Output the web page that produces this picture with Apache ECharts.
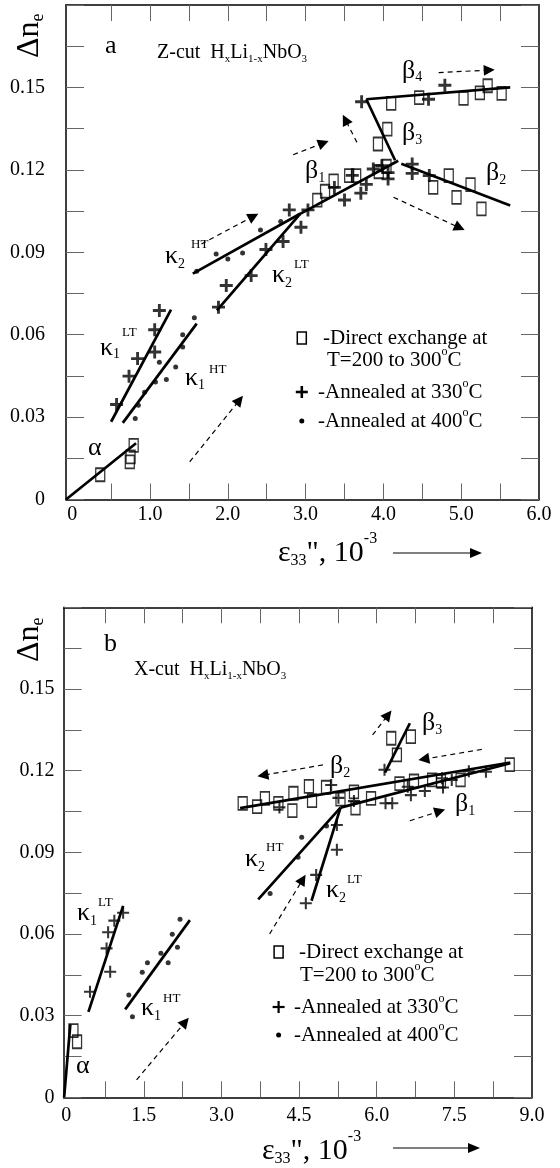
<!DOCTYPE html>
<html>
<head>
<meta charset="utf-8">
<script src="https://cdn.jsdelivr.net/npm/echarts@6/dist/echarts.min.js"></script>
<style>
  html, body { margin: 0; padding: 0; background: #fff; }
  #chart { width: 560px; height: 1168px; }
</style>
</head>
<body>
<div id="chart"></div>
<script>
const FONT = '"Liberation Serif", "Times New Roman", serif';

// ---- panel a : Z-cut ----
const A_X_TICKS = [0.5, 1, 1.5, 2, 2.5, 3, 3.5, 4, 4.5, 5, 5.5];
const A_X_LABELS = [0, 1, 2, 3, 4, 5, 6];
// direct exchange at T=200 to 300 C
const A_DIRECT = [
  [0.36, 0.009], [0.74, 0.0137], [0.75, 0.0155], [0.79, 0.0197],
  [3.15, 0.109], [3.25, 0.1122], [3.36, 0.116], [3.56, 0.1179], [3.65, 0.1179], [3.94, 0.1193], [4.04, 0.1213],
  [3.93, 0.1294], [4.05, 0.1348],
  [4.10, 0.1442], [4.46, 0.1463], [5.03, 0.146], [5.24, 0.148], [5.34, 0.1506], [5.52, 0.1478],
  [4.64, 0.1136], [4.84, 0.1179], [4.94, 0.110], [5.12, 0.1146], [5.26, 0.1058]
];
// annealed at 330 C
const A_ANNEAL330 = [
  [0.57, 0.0346], [0.73, 0.0449], [0.84, 0.0513], [1.06, 0.0537], [1.06, 0.0618], [1.12, 0.0688],
  [1.88, 0.070], [1.98, 0.0779], [2.30, 0.0815], [2.49, 0.091], [2.71, 0.0939], [2.94, 0.0991], [2.79, 0.1054], [3.03, 0.1054],
  [3.37, 0.1136], [3.50, 0.109], [3.71, 0.1115], [3.78, 0.1147], [3.60, 0.118], [3.87, 0.1203], [3.98, 0.1215], [4.06, 0.119], [4.06, 0.1167],
  [3.72, 0.1448], [4.58, 0.1457], [4.79, 0.1508],
  [4.37, 0.1221], [4.37, 0.1187], [4.59, 0.1179]
];
// annealed at 400 C
const A_ANNEAL400 = [
  [0.81, 0.0295], [0.85, 0.0343], [0.93, 0.039], [1.07, 0.0428], [1.21, 0.0437], [1.12, 0.050], [1.33, 0.0482],
  [1.42, 0.0555], [1.42, 0.060], [1.57, 0.0662],
  [1.60, 0.0831], [1.85, 0.0894], [2.00, 0.0875], [2.19, 0.0897], [2.42, 0.0981], [2.68, 0.1012]
];
// fitted segments: alpha, k1LT, k1HT, k2LT, k2HT, b1, b3, b4, b2
const A_FITS = [
  [[-0.08, 0], [0.82, 0.0205]],
  [[0.50, 0.0283], [1.27, 0.0691]],
  [[0.65, 0.0279], [1.60, 0.064]],
  [[1.86, 0.0688], [2.93, 0.104]],
  [[1.55, 0.0822], [2.93, 0.104]],
  [[2.90, 0.1035], [4.19, 0.1233]],
  [[4.15, 0.1235], [3.78, 0.1457]],
  [[3.78, 0.1457], [5.63, 0.150]],
  [[4.23, 0.1222], [5.63, 0.107]]
];
const A_ARROWS = [
  [[1.66, 0.093], [2.33, 0.1031]],
  [[2.84, 0.1255], [3.23, 0.1298]],
  [[3.66, 0.130], [3.51, 0.1383]],
  [[4.13, 0.110], [4.98, 0.0989]],
  [[4.71, 0.1554], [5.36, 0.1563]],
  [[1.51, 0.0137], [2.15, 0.0362]]
];

// ---- panel b : X-cut ----
const B_X_TICKS = [0.75, 1.5, 2.25, 3, 3.75, 4.5, 5.25, 6, 6.75, 7.5, 8.25];
const B_X_LABELS = [0, 1.5, 3, 4.5, 6, 7.5, 9];
const B_DIRECT = [
  [0.14, 0.0245], [0.21, 0.0204],
  [3.41, 0.108], [3.69, 0.1068], [3.84, 0.1098], [4.10, 0.108], [4.37, 0.1053], [4.39, 0.1117], [4.69, 0.1142],
  [4.75, 0.109], [5.02, 0.1139], [5.30, 0.1095], [5.56, 0.1122], [5.59, 0.1062], [5.89, 0.1098], [6.44, 0.1152],
  [6.72, 0.1162], [7.07, 0.1166], [7.24, 0.1162], [7.62, 0.1166], [8.57, 0.1222],
  [6.28, 0.1319], [6.66, 0.1325], [6.39, 0.1258]
];
const B_ANNEAL330 = [
  [0.46, 0.0388], [0.85, 0.0461], [0.78, 0.0547], [0.81, 0.0606], [0.93, 0.0649], [1.10, 0.0678],
  [4.63, 0.0713], [4.83, 0.0817], [5.23, 0.0909], [5.23, 0.100],
  [4.12, 0.1065], [5.12, 0.1147], [5.26, 0.110], [5.56, 0.1088], [6.15, 0.1203], [6.17, 0.108], [6.30, 0.108],
  [6.60, 0.1141], [6.66, 0.111], [6.93, 0.1125], [7.26, 0.1172], [7.28, 0.1138], [7.45, 0.1166], [7.78, 0.1198], [8.11, 0.1196]
];
const B_ANNEAL400 = [
  [1.28, 0.0296], [1.21, 0.0376], [1.47, 0.0459], [1.57, 0.0494], [1.83, 0.0529], [1.97, 0.0494],
  [2.15, 0.0551], [2.05, 0.0599], [2.20, 0.0654],
  [3.94, 0.0749], [4.48, 0.0882], [4.55, 0.0955], [5.03, 0.0997]
];
// alpha, k1LT, k1HT, k2HT, k2LT, b1, b2, b3
const B_FITS = [
  [[-0.04, 0], [0.08, 0.0268]],
  [[0.43, 0.0314], [1.10, 0.0703]],
  [[1.14, 0.0323], [2.39, 0.0651]],
  [[3.71, 0.0727], [5.30, 0.1064]],
  [[4.74, 0.0722], [5.30, 0.1064]],
  [[5.30, 0.1064], [8.58, 0.1227]],
  [[3.36, 0.1062], [8.58, 0.1230]],
  [[6.16, 0.1193], [6.64, 0.1374]]
];
const B_ARROWS = [
  [[4.96, 0.1221], [3.80, 0.1183]],
  [[6.64, 0.1016], [7.22, 0.1051]],
  [[8.03, 0.1278], [6.91, 0.1242]],
  [[5.92, 0.1331], [6.22, 0.1405]],
  [[3.93, 0.060], [4.57, 0.080]],
  [[1.36, 0.0064], [2.30, 0.0277]]
];

const PLUS_A = 'path://M0,3.9H10V6.1H0Z M3.9,0H6.1V10H3.9Z';
const PLUS_B = 'path://M0,4.15H10V5.85H0Z M4.15,0H5.85V10H4.15Z';

const tickStyle = { color: '#666', width: 1 };
const boxLine = { show: true, onZero: false, lineStyle: { color: '#000', width: 1.5 } };

function xAxes(grid, min, max, ticks, labels, margin) {
  return [
    {
      type: 'value', gridIndex: grid, min: min, max: max, position: 'bottom',
      axisLine: boxLine, splitLine: { show: false },
      axisTick: { inside: true, length: 16, customValues: ticks, lineStyle: tickStyle },
      axisLabel: {
        customValues: labels, margin: margin, color: '#000', fontSize: 20, fontFamily: FONT,
        formatter: v => (v === 0 ? '0' : v.toFixed(1))
      }
    },
    {
      type: 'value', gridIndex: grid, min: min, max: max, position: 'top',
      axisLine: boxLine, splitLine: { show: false },
      axisTick: { inside: true, length: 16, customValues: ticks, lineStyle: tickStyle },
      axisLabel: { show: false }
    }
  ];
}

function yAxes(grid, margin) {
  const base = {
    type: 'value', gridIndex: grid, min: 0, max: 0.18, interval: 0.015,
    axisLine: boxLine, splitLine: { show: false },
    axisTick: { inside: true, length: 18, lineStyle: tickStyle }
  };
  return [
    Object.assign({}, base, {
      position: 'left',
      axisLabel: {
        margin: margin, color: '#000', fontSize: 20, fontFamily: FONT,
        formatter: v => {
          const k = Math.round(v / 0.015);
          if (k % 2 || k >= 12) return '';
          return k === 0 ? '0' : v.toFixed(2);
        }
      }
    }),
    Object.assign({}, base, { position: 'right', axisLabel: { show: false } })
  ];
}

function panelSeries(ax, direct, a330, a400, fits, arrows, plus, plusSize) {
  const list = [];
  fits.forEach(seg => {
    list.push({
      type: 'line', xAxisIndex: ax, yAxisIndex: ax, data: seg, symbol: 'none', silent: true,
      lineStyle: { color: '#000', width: 2.7 }, z: 2
    });
  });
  list.push({
    type: 'scatter', name: 'Direct exchange', xAxisIndex: ax, yAxisIndex: ax, data: direct,
    symbol: 'rect', symbolSize: [9, 13],
    itemStyle: { color: 'rgba(0,0,0,0)', borderColor: '#000', borderWidth: 1.5 }, z: 3
  });
  list.push({
    type: 'scatter', name: 'Annealed 330', xAxisIndex: ax, yAxisIndex: ax, data: a330,
    symbol: plus, symbolSize: plusSize, itemStyle: { color: '#000' }, z: 3
  });
  list.push({
    type: 'scatter', name: 'Annealed 400', xAxisIndex: ax, yAxisIndex: ax, data: a400,
    symbol: 'circle', symbolSize: 5, itemStyle: { color: '#000' }, z: 3
  });
  list.push({
    type: 'lines', coordinateSystem: 'cartesian2d', xAxisIndex: ax, yAxisIndex: ax, silent: true,
    symbol: ['none', 'triangle'], symbolSize: 11,
    itemStyle: { color: '#000' },
    lineStyle: { color: '#000', width: 1.2, type: [5, 4], opacity: 1, curveness: 0 },
    data: arrows.map(c => ({ coords: c })), z: 4
  });
  return list;
}

// text pieces laid out one after another
const mctx = document.createElement('canvas').getContext('2d');
function seq(x, y, parts) {
  const out = [];
  let cx = x;
  parts.forEach(p => {
    const t = p[0], s = p[1], dy = p[2] || 0, gap = p[3] || 0;
    cx += gap;
    const font = s + 'px ' + FONT;
    mctx.font = font;
    out.push({
      type: 'text', x: cx, y: y + dy, silent: true,
      style: { text: t, font: font, fill: '#000', align: 'left', verticalAlign: 'middle' }
    });
    cx += mctx.measureText(t).width;
  });
  return out;
}

function legend(sx, y1, tx1, tx2, y2, y3, tx3, y4, plusW) {
  const g = [];
  g.push({ type: 'rect', silent: true, shape: { x: sx - 4.5, y: y1 - 6, width: 9, height: 12 },
    style: { fill: 'none', stroke: '#000', lineWidth: 1.5 } });
  g.push({ type: 'rect', silent: true, shape: { x: sx - 6, y: y3 - plusW / 2, width: 12, height: plusW }, style: { fill: '#000' } });
  g.push({ type: 'rect', silent: true, shape: { x: sx - plusW / 2, y: y3 - 6, width: plusW, height: 12 }, style: { fill: '#000' } });
  g.push({ type: 'circle', silent: true, shape: { cx: sx, cy: y4, r: 2.5 }, style: { fill: '#000' } });
  g.push(...seq(tx1, y1, [['-Direct exchange at', 21]]));
  g.push(...seq(tx2, y2, [['T=200 to 300', 21], ['o', 12, -8], ['C', 21]]));
  g.push(...seq(tx3, y3, [['-Annealed at 330', 21], ['o', 12, -8], ['C', 21]]));
  g.push(...seq(tx3, y4, [['-Annealed at 400', 21], ['o', 12, -8], ['C', 21]]));
  return g;
}

function axisName(x, y, ax1, ax2, ay) {
  const g = seq(x, y, [['ε', 30], ['33', 16, 8], ['", 10', 30], ['-3', 16, -14]]);
  g.push({ type: 'line', silent: true, shape: { x1: ax1, y1: ay, x2: ax2 - 10, y2: ay }, style: { stroke: '#000', lineWidth: 1 } });
  g.push({ type: 'polygon', silent: true, shape: { points: [[ax2, ay], [ax2 - 12, ay - 5], [ax2 - 12, ay + 5]] }, style: { fill: '#000' } });
  return g;
}

function yName(x, y) {
  return { type: 'group', x: x, y: y, rotation: Math.PI / 2, children: seq(0, 0, [['Δn', 32], ['e', 18, 8]]) };
}

const G = 26, SB = 14, SP = 13;
const graphics = [].concat(
  // panel a
  yName(30, 58),
  seq(105, 46, [['a', 26]]),
  seq(157, 53, [['Z-cut  H', 20], ['x', 11, 6], ['Li', 20], ['1-x', 11, 6], ['NbO', 20], ['3', 11, 6]]),
  seq(88, 448, [['α', G]]),
  seq(100, 348, [['κ', G], ['1', SB, 6], ['LT', SP, -15, 2]]),
  seq(185, 378, [['κ', G], ['1', SB, 7], ['HT', SP, -8, 4]]),
  seq(165, 256, [['κ', G], ['2', SB, 8], ['HT', SP, -11, 6]]),
  seq(272, 275, [['κ', G], ['2', SB, 8], ['LT', SP, -10, 2]]),
  seq(305, 171, [['β', G], ['1', SB, 7]]),
  seq(402, 133, [['β', G], ['3', SB, 7]]),
  seq(486, 173, [['β', G], ['2', SB, 7]]),
  seq(402, 71, [['β', G], ['4', SB, 6]]),
  legend(301.8, 338, 323, 327, 360, 392, 318, 421, 2.6),
  axisName(278, 553, 393, 482, 553),
  // panel b
  yName(30, 662),
  seq(104, 644, [['b', 26]]),
  seq(134, 670, [['X-cut  H', 20], ['x', 11, 6], ['Li', 20], ['1-x', 11, 6], ['NbO', 20], ['3', 11, 6]]),
  seq(76, 1066, [['α', G]]),
  seq(77, 913, [['κ', G], ['1', SB, 8], ['LT', SP, -10, 1]]),
  seq(141, 1008, [['κ', G], ['1', SB, 8], ['HT', SP, -9, 2]]),
  seq(245, 859, [['κ', G], ['2', SB, 8], ['HT', SP, -11, 1]]),
  seq(326, 890, [['κ', G], ['2', SB, 8], ['LT', SP, -10, 1]]),
  seq(330, 766, [['β', G], ['2', SB, 7]]),
  seq(422, 723, [['β', G], ['3', SB, 7]]),
  seq(455, 804, [['β', G], ['1', SB, 7]]),
  legend(278.6, 952, 299, 300, 975, 1007, 294, 1035, 2.2),
  axisName(262, 1151, 393, 480, 1148)
);

const chart = echarts.init(document.getElementById('chart'), null, { renderer: 'canvas' });
chart.setOption({
  animation: false,
  backgroundColor: '#fff',
  grid: [
    { left: 66, top: 5, width: 473, height: 494.5 },
    { left: 63.6, top: 607.3, width: 468.4, height: 490 }
  ],
  xAxis: [].concat(
    xAxes(0, -0.08, 6, A_X_TICKS, A_X_LABELS, 5),
    xAxes(1, -0.05, 9, B_X_TICKS, B_X_LABELS, 8)
  ),
  yAxis: [].concat(yAxes(0, 21), yAxes(1, 9)),
  series: [].concat(
    panelSeries(0, A_DIRECT, A_ANNEAL330, A_ANNEAL400, A_FITS, A_ARROWS, PLUS_A, 13),
    panelSeries(2, B_DIRECT, B_ANNEAL330, B_ANNEAL400, B_FITS, B_ARROWS, PLUS_B, 12)
  ),
  graphic: graphics
});
</script>
</body>
</html>
